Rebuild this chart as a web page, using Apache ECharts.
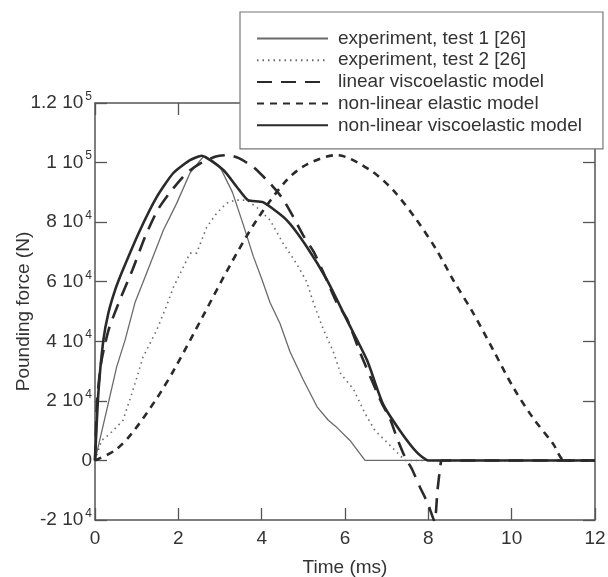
<!DOCTYPE html>
<html>
<head>
<meta charset="utf-8">
<script src="https://cdn.jsdelivr.net/npm/echarts@6/dist/echarts.min.js"></script>
<style>
  html, body { margin: 0; padding: 0; background: #fff; }
  #chart { width: 608px; height: 577px; }
</style>
</head>
<body>
<div id="chart"></div>
<script>
// [time (ms), force (N)]
const test1 = [
  [0, 0], [0.28, 16800], [0.52, 31400], [0.72, 40300], [0.96, 53000], [1.24, 62900],
  [1.64, 77300], [1.96, 86300], [2.28, 96500], [2.6, 102000], [3.0, 98500], [3.3, 90000],
  [3.55, 79500], [3.8, 68500], [4.0, 61000], [4.2, 53000], [4.44, 46000], [4.68, 36500],
  [5.0, 27000], [5.33, 18000], [5.6, 13500], [5.8, 11100], [6.12, 6700], [6.48, 0], [12, 0]
];
const test2 = [
  [0, 0], [0.16, 6700], [0.36, 9000], [0.67, 13400], [0.91, 23500], [1.15, 34600],
  [1.48, 43700], [1.72, 52000], [1.88, 58100], [2.12, 64900], [2.28, 69600], [2.44, 69600],
  [2.68, 78300], [2.92, 83000], [3.16, 86400], [3.36, 87400], [3.64, 87400], [3.88, 85000],
  [4.2, 80700], [4.51, 73000], [4.84, 66000], [5.08, 60000], [5.24, 53000], [5.48, 44000],
  [5.72, 36500], [5.9, 29000], [6.2, 24000], [6.48, 15800], [6.72, 10000], [7.0, 6200],
  [7.39, 700], [7.44, 0], [12, 0]
];
const linearVisco = [
  [0, 0], [0.05, 20000], [0.15, 33000], [0.33, 44000], [0.6, 54000], [0.9, 64000],
  [1.2, 75000], [1.5, 84000], [1.8, 90000], [2.2, 96500], [2.5, 99500], [2.9, 102000],
  [3.2, 102500], [3.45, 101500], [3.8, 98500], [4.2, 93000], [4.5, 88000], [4.75, 82000],
  [5.0, 75500], [5.25, 70000], [5.5, 62500], [5.8, 53000], [6.05, 47500], [6.36, 36300],
  [6.87, 19600], [7.08, 14000], [7.24, 7800], [7.44, 1100], [7.6, -2700], [7.8, -9000],
  [7.99, -14500], [8.15, -20500], [8.22, -10000], [8.3, -600], [8.32, 0], [12, 0]
];
const nonlinElastic = [
  [0, 0], [0.48, 3400], [0.88, 9000], [1.48, 20800], [1.92, 31000], [2.6, 48700],
  [3.24, 65500], [3.88, 80700], [4.6, 94100], [5.1, 99500], [5.8, 102500], [6.6, 97500],
  [7.15, 90800], [7.72, 80700], [8.2, 70600], [8.6, 60500], [9.08, 49400], [9.56, 37000],
  [10.04, 24500], [10.5, 14500], [10.99, 5700], [11.28, 0], [12, 0]
];
const nonlinVisco = [
  [0, 0], [0.08, 22500], [0.2, 40300], [0.32, 49400], [0.48, 57100], [0.67, 64000],
  [1.08, 77300], [1.48, 88400], [1.88, 96500], [2.28, 100800], [2.56, 102300], [3.08, 97500],
  [3.4, 91900], [3.67, 87400], [4.03, 86700], [4.6, 80700], [5.09, 71600], [5.57, 60500],
  [6.05, 47000], [6.53, 33600], [6.91, 19000], [7.32, 10000], [7.72, 2800], [8.0, 0], [12, 0]
];

const seriesNames = [
  'experiment, test 1 [26]',
  'experiment, test 2 [26]',
  'linear viscoelastic model',
  'non-linear elastic model',
  'non-linear viscoelastic model'
];

const font = 'Liberation Sans';
const textColor = '#333';
const axisColor = '#555';

const yLabel = (v) => {
  if (v === 0) return '0';
  const exp = Math.floor(Math.log10(Math.abs(v)));
  const mant = Math.round(v / Math.pow(10, exp) * 10) / 10;
  return '{b|' + mant + ' 10}{s|' + exp + '}';
};

const tickStyle = { inside: true, length: 12, lineStyle: { color: axisColor, width: 1.3 } };
const lineAxis = { onZero: false, lineStyle: { color: axisColor, width: 1.5 } };

const chart = echarts.init(document.getElementById('chart'));

const line = (name, data, style, smooth) => ({
  name, type: 'line', data, symbol: 'none', smooth: smooth || false,
  itemStyle: { color: style.color },
  lineStyle: style, z: 3
});

chart.setOption({
  animation: false,
  grid: { left: 95, right: 13, top: 103, bottom: 57, outerBoundsMode: 'none' },
  legend: {
    orient: 'vertical',
    left: 240,
    top: 12,
    data: seriesNames,
    itemWidth: 71,
    itemHeight: 20,
    itemGap: 2.7,
    padding: [17, 21, 14, 16],
    borderColor: '#777',
    borderWidth: 1.2,
    backgroundColor: '#fff',
    itemStyle: { opacity: 0 },
    textStyle: { fontFamily: font, fontSize: 19, color: textColor, padding: [0, 0, 0, 5] }
  },
  xAxis: [
    {
      type: 'value', min: 0, max: 12, interval: 2,
      name: 'Time (ms)', nameLocation: 'middle', nameGap: 38, nameMoveOverlap: false,
      nameTextStyle: { fontFamily: font, fontSize: 19, color: textColor },
      axisLine: lineAxis, axisTick: tickStyle, splitLine: { show: false },
      axisLabel: { fontFamily: font, fontSize: 19, color: textColor, margin: 9 }
    },
    {
      type: 'value', position: 'top', min: 0, max: 12, interval: 2,
      axisLine: lineAxis, axisTick: tickStyle, splitLine: { show: false },
      axisLabel: { show: false }
    }
  ],
  yAxis: [
    {
      type: 'value', min: -20000, max: 120000, interval: 20000,
      name: 'Pounding force (N)', nameLocation: 'middle', nameGap: 62, nameRotate: 90,
      nameMoveOverlap: false,
      nameTextStyle: { fontFamily: font, fontSize: 19, color: textColor },
      axisLine: lineAxis, axisTick: tickStyle, splitLine: { show: false },
      axisLabel: {
        margin: 3,
        formatter: yLabel,
        rich: {
          b: { fontFamily: font, fontSize: 19, color: textColor },
          s: { fontFamily: font, fontSize: 12, color: textColor, padding: [0, 0, 13, 2] }
        },
        fontFamily: font, fontSize: 19, color: textColor
      }
    },
    {
      type: 'value', position: 'right', min: -20000, max: 120000, interval: 20000,
      axisLine: lineAxis, axisTick: tickStyle, splitLine: { show: false },
      axisLabel: { show: false }
    }
  ],
  series: [
    line(seriesNames[0], test1, { color: '#6a6a6a', width: 1.3, type: 'solid' }),
    line(seriesNames[1], test2, { color: '#6a6a6a', width: 1.6, type: [1.5, 4] }),
    line(seriesNames[2], linearVisco, { color: '#2a2a2a', width: 2.6, type: [15, 9] }, 0.2),
    line(seriesNames[3], nonlinElastic, { color: '#2a2a2a', width: 2.6, type: [7, 6] }, 0.3),
    line(seriesNames[4], nonlinVisco, { color: '#2a2a2a', width: 2.6, type: 'solid' }, 0.2)
  ]
});
</script>
</body>
</html>
